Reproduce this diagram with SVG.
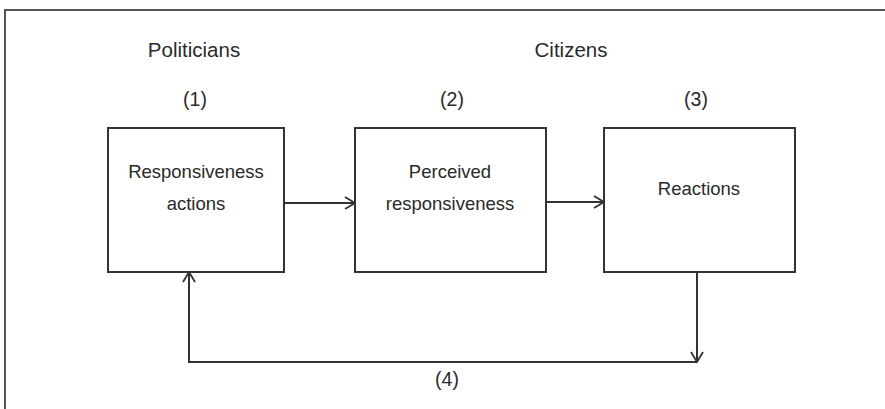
<svg xmlns="http://www.w3.org/2000/svg" width="885" height="409" viewBox="0 0 885 409">
  <style>
    .frame { fill: none; stroke: #555; stroke-width: 2; }
    .box { fill: #fff; stroke: #333; stroke-width: 2; }
    .link { fill: none; stroke: #333; stroke-width: 2; }
    .label { font-family: "Liberation Sans", Arial, sans-serif; font-size: 18.5px; fill: #2a2a2a; text-anchor: middle; }
    .heading { font-size: 20.5px; }
    .num { font-size: 19.5px; }
  </style>
  <defs>
    <marker id="open-arrow" viewBox="0 0 12 14" refX="11" refY="7" markerWidth="12" markerHeight="14" markerUnits="userSpaceOnUse" orient="auto">
      <path d="M1,1 L11,7 L1,13" fill="none" stroke="#333" stroke-width="1.8"/>
    </marker>
  </defs>

  <rect width="885" height="409" fill="#fff"/>
  <!-- outer frame, running off the right and bottom edges -->
  <rect class="frame" x="5" y="10" width="900" height="420"/>

  <!-- column headings -->
  <g id="headings">
    <text class="label heading" x="194" y="57">Politicians</text>
    <text class="label heading" x="571" y="57">Citizens</text>
    <text class="label num" x="195" y="106">(1)</text>
    <text class="label num" x="452" y="106">(2)</text>
    <text class="label num" x="696" y="106">(3)</text>
  </g>

  <g id="node-actions">
    <rect class="box" x="108" y="128" width="176" height="144"/>
    <text class="label" x="196" y="178">Responsiveness</text>
    <text class="label" x="196" y="210">actions</text>
  </g>

  <g id="node-perceived">
    <rect class="box" x="355" y="128" width="191" height="144"/>
    <text class="label" x="450" y="178">Perceived</text>
    <text class="label" x="450" y="210">responsiveness</text>
  </g>

  <g id="node-reactions">
    <rect class="box" x="604" y="128" width="191" height="144"/>
    <text class="label" x="699" y="195">Reactions</text>
  </g>

  <g id="connectors">
    <line class="link" x1="284" y1="203" x2="355" y2="203" marker-end="url(#open-arrow)"/>
    <line class="link" x1="546" y1="202" x2="604" y2="202" marker-end="url(#open-arrow)"/>
    <line class="link" x1="697" y1="272" x2="697" y2="362" marker-end="url(#open-arrow)"/>
    <polyline class="link" points="697,362 189,362 189,272" marker-end="url(#open-arrow)"/>
    <text class="label num" x="447" y="386">(4)</text>
  </g>
</svg>
